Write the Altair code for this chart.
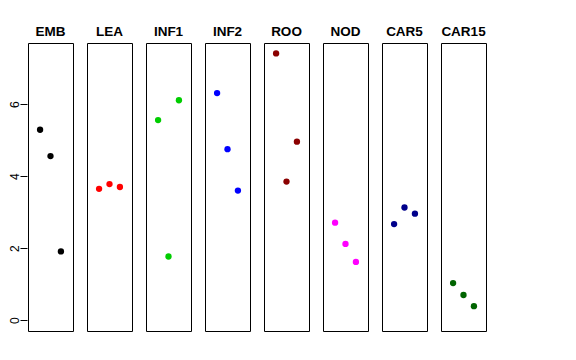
import altair as alt
import pandas as pd

tissues = ["EMB", "LEA", "INF1", "INF2", "ROO", "NOD", "CAR5", "CAR15"]
colors = ["#000000", "#FF0000", "#00CD00", "#0000FF", "#8B0000", "#FF00FF", "#00008B", "#006400"]
values = [
    [5.29, 4.56, 1.91],
    [3.65, 3.78, 3.70],
    [5.56, 1.77, 6.11],
    [6.31, 4.75, 3.60],
    [7.41, 3.85, 4.96],
    [2.71, 2.12, 1.62],
    [2.67, 3.13, 2.96],
    [1.03, 0.70, 0.39],
]
positions = [1, 2, 3]

rows = []
for t, vals in zip(tissues, values):
    for p, v in zip(positions, vals):
        rows.append({"tissue": t, "pos": p, "value": v})
df = pd.DataFrame(rows)

base = alt.Chart(df).mark_circle(size=40, opacity=1).encode(
    x=alt.X("pos:Q", axis=None, scale=alt.Scale(domain=[-0.16, 4.16], nice=False, zero=False)),
    y=alt.Y("value:Q", scale=alt.Scale(domain=[-0.3, 7.7], nice=False, zero=False),
            axis=alt.Axis(values=[0, 2, 4, 6], domain=False, grid=False, tickSize=7,
                          tickColor="black", labelAngle=270, labelFontSize=12,
                          labelColor="black", labelPadding=-1, title=None,
                          labelFont="Liberation Sans")),
    color=alt.Color("tissue:N", scale=alt.Scale(domain=tissues, range=colors), legend=None),
).properties(width=45, height=288)

chart = base.facet(
    column=alt.Column("tissue:N", sort=tissues,
                      header=alt.Header(title=None, labelFontSize=13.5, labelFontWeight="bold",
                                        labelFont="Liberation Sans", labelColor="black",
                                        labelPadding=4)),
    spacing=12,
).properties(padding={"left": 0, "top": 16, "right": 0, "bottom": 0}).configure(
    font="Liberation Sans",
    view=alt.ViewConfig(stroke="black", strokeWidth=1),
)

chart.save("out.html", embed_options={"renderer": "svg", "actions": False})
